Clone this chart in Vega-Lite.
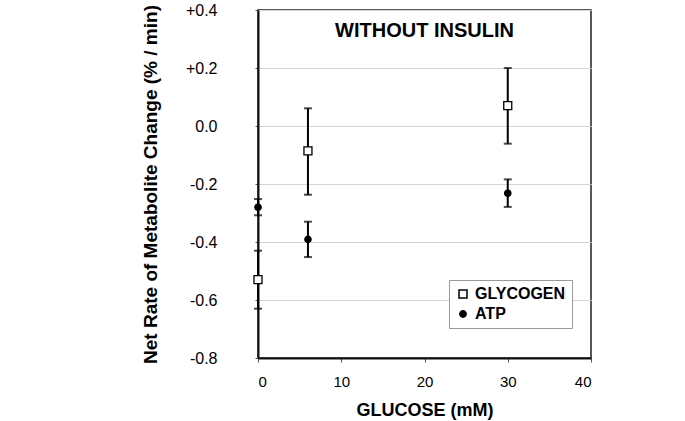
{
  "$schema": "https://vega.github.io/schema/vega-lite/v6.json",
  "autosize": "none",
  "width": 333,
  "height": 348,
  "padding": {"left": 258, "top": 10, "right": 94, "bottom": 63},
  "background": "white",
  "config": {
    "font": "Liberation Sans",
    "view": {"stroke": "#222", "strokeWidth": 1.5}
  },
  "title": {
    "text": "WITHOUT INSULIN",
    "frame": "group",
    "anchor": "middle",
    "orient": "top",
    "offset": -39,
    "fontSize": 20,
    "fontWeight": "bold",
    "color": "#000"
  },
  "data": {
    "values": [
      {"series": "GLYCOGEN", "glucose": 0, "rate": -0.53, "lo": -0.63, "hi": -0.43},
      {"series": "GLYCOGEN", "glucose": 6, "rate": -0.086, "lo": -0.237, "hi": 0.061},
      {"series": "GLYCOGEN", "glucose": 30, "rate": 0.07, "lo": -0.061, "hi": 0.2},
      {"series": "ATP", "glucose": 0, "rate": -0.28, "lo": -0.308, "hi": -0.252},
      {"series": "ATP", "glucose": 6, "rate": -0.391, "lo": -0.452, "hi": -0.33},
      {"series": "ATP", "glucose": 30, "rate": -0.232, "lo": -0.279, "hi": -0.184}
    ]
  },
  "encoding": {
    "x": {
      "field": "glucose",
      "type": "quantitative",
      "scale": {"domain": [0, 40], "nice": false, "zero": false},
      "axis": {
        "title": "GLUCOSE (mM)",
        "titleFontSize": 18,
        "titleFontWeight": "bold",
        "titleColor": "#000",
        "titlePadding": 12,
        "values": [0, 10, 20, 30, 40],
        "labelFontSize": 15,
        "labelColor": "#000",
        "labelPadding": 12,
        "grid": false,
        "domainColor": "#111",
        "domainWidth": 2,
        "tickColor": "#555",
        "tickSize": 4
      }
    }
  },
  "layer": [
    {
      "mark": {"type": "rule", "stroke": "#000", "strokeWidth": 2},
      "encoding": {
        "y": {
          "field": "lo",
          "type": "quantitative",
          "scale": {"domain": [-0.8, 0.4], "nice": false, "zero": false},
          "axis": {
            "title": "Net Rate of Metabolite Change (% / min)",
            "titleFontSize": 19,
            "titleFontWeight": "bold",
            "titleColor": "#000",
            "titlePadding": 25,
            "values": [-0.8, -0.6, -0.4, -0.2, 0, 0.2, 0.4],
            "labelExpr": "datum.value > 0.001 ? '+' + format(datum.value, '.1f') : (abs(datum.value) < 0.001 ? '0.0' : '-' + format(abs(datum.value), '.1f'))",
            "labelFontSize": 16,
            "labelColor": "#000",
            "labelPadding": 38,
            "grid": true,
            "gridColor": "#d4d4d4",
            "gridWidth": 1,
            "domainColor": "#111",
            "domainWidth": 2,
            "tickColor": "#555",
            "tickSize": 3
          }
        },
        "y2": {"field": "hi"}
      }
    },
    {
      "mark": {"type": "tick", "orient": "horizontal", "color": "#000", "size": 8, "thickness": 2},
      "encoding": {"y": {"field": "lo", "type": "quantitative"}}
    },
    {
      "mark": {"type": "tick", "orient": "horizontal", "color": "#000", "size": 8, "thickness": 2},
      "encoding": {"y": {"field": "hi", "type": "quantitative"}}
    },
    {
      "mark": {"type": "point", "opacity": 1, "strokeWidth": 1.3},
      "encoding": {
        "y": {"field": "rate", "type": "quantitative"},
        "stroke": {"value": "#000"},
        "shape": {
          "field": "series",
          "type": "nominal",
          "scale": {"domain": ["GLYCOGEN", "ATP"], "range": ["square", "circle"]},
          "legend": {
            "title": null,
            "orient": "none",
            "legendX": 191,
            "legendY": 270,
            "direction": "vertical",
            "strokeColor": "#999",
            "fillColor": "white",
            "padding": 6,
            "labelFontSize": 16,
            "labelFontWeight": "bold",
            "labelColor": "#000",
            "rowPadding": 4,
            "encode": {
              "symbols": {
                "update": {
                  "stroke": {"value": "#000"},
                  "strokeWidth": {"value": 1.2},
                  "size": {"value": 42}
                }
              }
            }
          }
        },
        "fill": {
          "field": "series",
          "type": "nominal",
          "scale": {"domain": ["GLYCOGEN", "ATP"], "range": ["#ffffff", "#000000"]}
        },
        "size": {
          "field": "series",
          "type": "nominal",
          "scale": {"domain": ["GLYCOGEN", "ATP"], "range": [64, 40]}
        }
      }
    }
  ]
}
